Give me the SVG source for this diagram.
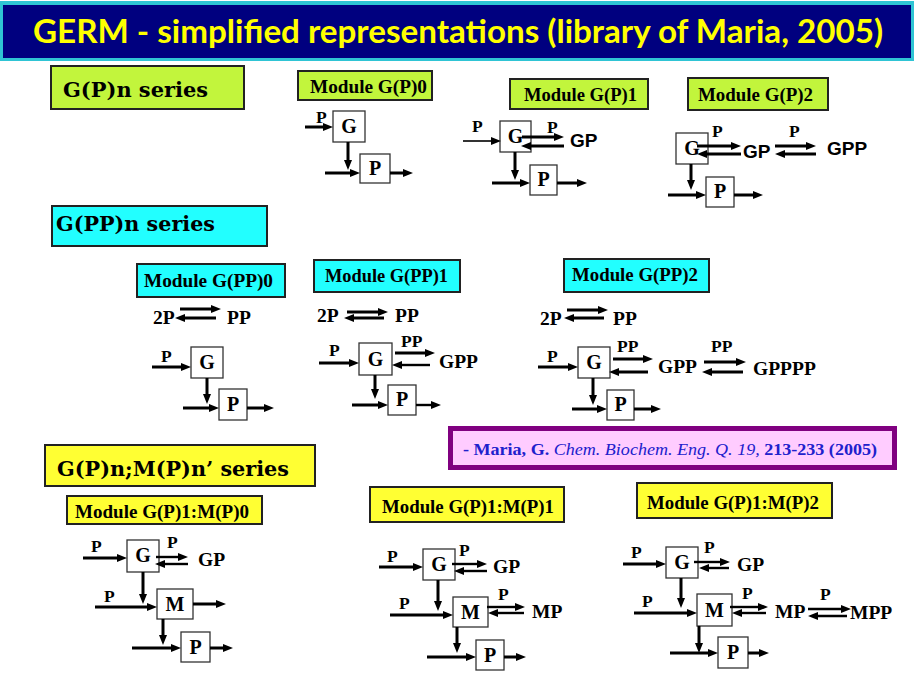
<svg xmlns="http://www.w3.org/2000/svg" width="914" height="676" viewBox="0 0 914 676">
<style>
.bg{fill:#fff}
.box{fill:#fff;stroke:#333;stroke-width:1.3}
.lim{fill:#C2F53C;stroke:#222;stroke-width:2}
.cya{fill:#22FFFF;stroke:#222;stroke-width:2}
.yel{fill:#FFFF33;stroke:#222;stroke-width:2}
.ar{stroke:#000;stroke-width:3;fill:none;marker-end:url(#ah)}
.th{stroke-width:1.6}
.md{stroke-width:2.4}
.t{font-family:"Liberation Serif","Times New Roman",serif;font-weight:bold;fill:#000}
.b{font-size:20px;text-anchor:middle}
.l{font-size:17.5px}
.p{font-size:19.5px}
.m{font-size:19px}
.s{font-family:"Liberation Sans",Arial,sans-serif;font-weight:bold;font-size:19px;fill:#000}
.h{font-family:"DejaVu Serif",serif;font-weight:bold;font-size:21px;fill:#000}
</style>
<defs>
<marker id="ah" markerUnits="userSpaceOnUse" markerWidth="10" markerHeight="8" viewBox="0 0 10 8" refX="4" refY="4" orient="auto">
<path d="M0,0 L10,4 L0,8 z" fill="#000"/>
</marker>
</defs>
<rect class="bg" x="0" y="0" width="914" height="676"/>

<g id="title">
<rect x="0" y="1" width="914" height="60" fill="#2FC4D4"/>
<rect x="3" y="5" width="908" height="53" fill="#00007F"/>
<text x="33" y="43" font-family="Lato,'Liberation Sans',sans-serif" font-weight="bold" font-size="33" fill="#FFFF00" textLength="850" lengthAdjust="spacingAndGlyphs">GERM - simplified representations (library of Maria, 2005)</text>
</g>

<g id="hdr-gpn"><rect class="lim" x="51" y="66" width="193" height="43"/><text class="h" x="63" y="97" textLength="145" lengthAdjust="spacingAndGlyphs">G(P)n series</text></g>
<g id="hdr-gppn"><rect class="cya" x="52" y="206" width="215" height="40"/><text class="h" x="56" y="231" textLength="159" lengthAdjust="spacingAndGlyphs">G(PP)n series</text></g>
<g id="hdr-gpnmpn"><rect class="yel" x="45" y="445" width="270" height="41"/><text class="h" x="57" y="476" textLength="232" lengthAdjust="spacingAndGlyphs">G(P)n;M(P)n’ series</text></g>

<g id="mod-gp0"><rect class="lim" x="298" y="71" width="134" height="29"/><text class="t m" x="310" y="93" textLength="117" lengthAdjust="spacingAndGlyphs">Module G(P)0</text></g>
<g id="mod-gp1"><rect class="lim" x="510" y="79" width="138" height="30"/><text class="t m" x="524" y="101" textLength="113" lengthAdjust="spacingAndGlyphs">Module G(P)1</text></g>
<g id="mod-gp2"><rect class="lim" x="688" y="78" width="140" height="32"/><text class="t m" x="698" y="101" textLength="115" lengthAdjust="spacingAndGlyphs">Module G(P)2</text></g>
<g id="mod-gpp0"><rect class="cya" x="137" y="264" width="148" height="33"/><text class="t m" x="144" y="287" textLength="129" lengthAdjust="spacingAndGlyphs">Module G(PP)0</text></g>
<g id="mod-gpp1"><rect class="cya" x="314" y="260" width="146" height="32"/><text class="t m" x="325" y="282" textLength="123" lengthAdjust="spacingAndGlyphs">Module G(PP)1</text></g>
<g id="mod-gpp2"><rect class="cya" x="564" y="259" width="145" height="33"/><text class="t m" x="572" y="281" textLength="126" lengthAdjust="spacingAndGlyphs">Module G(PP)2</text></g>
<g id="mod-gm0"><rect class="yel" x="67" y="496" width="195" height="28"/><text class="t" font-size="18" x="75" y="518" textLength="174" lengthAdjust="spacingAndGlyphs">Module G(P)1:M(P)0</text></g>
<g id="mod-gm1"><rect class="yel" x="370" y="487" width="194" height="35"/><text class="t" font-size="18" x="382" y="513" textLength="172" lengthAdjust="spacingAndGlyphs">Module G(P)1:M(P)1</text></g>
<g id="mod-gm2"><rect class="yel" x="637" y="483" width="195" height="35"/><text class="t" font-size="18" x="647" y="509" textLength="172" lengthAdjust="spacingAndGlyphs">Module G(P)1:M(P)2</text></g>

<g id="citation">
<rect x="450.5" y="428.5" width="444" height="39" fill="#FFCCFF" stroke="#800080" stroke-width="5"/>
<text x="463" y="455" font-family="'Liberation Serif','Times New Roman',serif" font-size="17.5" fill="#2020CC" textLength="414" lengthAdjust="spacingAndGlyphs"><tspan font-weight="bold">- Maria, G. </tspan><tspan font-style="italic">Chem. Biochem. Eng. Q. 19,</tspan><tspan font-weight="bold"> 213-233 (2005)</tspan></text>
</g>

<g id="gp0-G"><rect class="box" x="333" y="111" width="32" height="31"/><text class="t b" x="349" y="133">G</text></g>
<g id="gp0-P"><rect class="box" x="360" y="154" width="30" height="29"/><text class="t b" x="375" y="175">P</text></g>
<g id="gp1-G"><rect class="box" x="500" y="121" width="31" height="31"/><text class="t b" x="515.5" y="143">G</text></g>
<g id="gp1-P"><rect class="box" x="530" y="165" width="27" height="30"/><text class="t b" x="543.5" y="186">P</text></g>
<g id="gp1-GP"><text class="s" x="570" y="147">GP</text></g>
<g id="gp2-G"><rect class="box" x="676" y="133" width="32" height="31"/><text class="t b" x="692" y="155">G</text></g>
<g id="gp2-P"><rect class="box" x="706" y="177" width="28" height="30"/><text class="t b" x="720" y="198">P</text></g>
<g id="gp2-GP"><text class="s" x="743" y="158">GP</text></g>
<g id="gp2-GPP"><text class="s" x="827" y="155">GPP</text></g>
<g id="gpp0-2P"><text class="t p" x="153" y="324">2P</text></g>
<g id="gpp0-PP"><text class="t p" x="227" y="324">PP</text></g>
<g id="gpp0-G"><rect class="box" x="191" y="347" width="32" height="31"/><text class="t b" x="207" y="369">G</text></g>
<g id="gpp0-P"><rect class="box" x="219" y="389" width="28" height="31"/><text class="t b" x="233" y="411">P</text></g>
<g id="gpp1-2P"><text class="t p" x="317" y="322">2P</text></g>
<g id="gpp1-PP"><text class="t p" x="395" y="322">PP</text></g>
<g id="gpp1-G"><rect class="box" x="359" y="343" width="33" height="32"/><text class="t b" x="375.5" y="366">G</text></g>
<g id="gpp1-P"><rect class="box" x="388" y="385" width="28" height="30"/><text class="t b" x="402" y="406">P</text></g>
<g id="gpp1-GPP"><text class="t p" x="439" y="368">GPP</text></g>
<g id="gpp2-2P"><text class="t p" x="540" y="325">2P</text></g>
<g id="gpp2-PP"><text class="t p" x="613" y="325">PP</text></g>
<g id="gpp2-G"><rect class="box" x="578" y="347" width="32" height="31"/><text class="t b" x="594" y="369">G</text></g>
<g id="gpp2-P"><rect class="box" x="607" y="390" width="27" height="30"/><text class="t b" x="620.5" y="411">P</text></g>
<g id="gpp2-GPP"><text class="t p" x="658" y="373">GPP</text></g>
<g id="gpp2-GPPPP"><text class="t p" x="753" y="375">GPPPP</text></g>
<g id="gm0-G"><rect class="box" x="127" y="540" width="32" height="32"/><text class="t b" x="143" y="562">G</text></g>
<g id="gm0-GP"><text class="t p" x="198" y="566">GP</text></g>
<g id="gm0-M"><rect class="box" x="157" y="589" width="36" height="30"/><text class="t b" x="175" y="610.5">M</text></g>
<g id="gm0-P"><rect class="box" x="181" y="632" width="29" height="30"/><text class="t b" x="195.5" y="653.5">P</text></g>
<g id="gm1-G"><rect class="box" x="423" y="549" width="32" height="31"/><text class="t b" x="439" y="571">G</text></g>
<g id="gm1-GP"><text class="t p" x="493" y="573">GP</text></g>
<g id="gm1-M"><rect class="box" x="453" y="597" width="35" height="30"/><text class="t b" x="470.5" y="618.5">M</text></g>
<g id="gm1-MP"><text class="t p" x="532" y="618">MP</text></g>
<g id="gm1-P"><rect class="box" x="476" y="640" width="28" height="30"/><text class="t b" x="490" y="661.5">P</text></g>
<g id="gm2-G"><rect class="box" x="666" y="547" width="32" height="31"/><text class="t b" x="682" y="569">G</text></g>
<g id="gm2-GP"><text class="t p" x="737" y="571">GP</text></g>
<g id="gm2-M"><rect class="box" x="697" y="594" width="35" height="32"/><text class="t b" x="714.5" y="616.5">M</text></g>
<g id="gm2-MP"><text class="t p" x="775" y="618">MP</text></g>
<g id="gm2-MPP"><text class="t p" x="850" y="619">MPP</text></g>
<g id="gm2-P"><rect class="box" x="718" y="637" width="30" height="31"/><text class="t b" x="733" y="659">P</text></g>

<g id="connectors">
<path class="ar" d="M305,127 H327"/>
<path class="ar" d="M348,142 V164"/>
<path class="ar" d="M325,173 H354"/>
<path class="ar" d="M390,173 H407"/>
<path class="ar th" d="M463,141 H495"/>
<path class="ar" d="M522,137 H558"/>
<path class="ar" d="M564,146 H527"/>
<path class="ar" d="M515,152 V174"/>
<path class="ar" d="M492,183 H524"/>
<path class="ar" d="M557,183 H581"/>
<path class="ar" d="M697,146 H735"/>
<path class="ar" d="M741,154 H703"/>
<path class="ar" d="M775,146 H810"/>
<path class="ar" d="M816,154 H781"/>
<path class="ar" d="M691,164 V184"/>
<path class="ar" d="M668,195 H700"/>
<path class="ar" d="M734,195 H757"/>
<path class="ar" d="M180,309 H215"/>
<path class="ar" d="M216,318 H181"/>
<path class="ar" d="M152,367 H185"/>
<path class="ar" d="M207,378 V398"/>
<path class="ar" d="M183,408 H213"/>
<path class="ar" d="M247,408 H268"/>
<path class="ar" d="M347,312 H382"/>
<path class="ar" d="M384,318 H350"/>
<path class="ar" d="M319,363 H353"/>
<path class="ar" d="M395,353 H429"/>
<path class="ar md" d="M430,365 H398"/>
<path class="ar" d="M375,375 V393"/>
<path class="ar" d="M352,405 H382"/>
<path class="ar md" d="M416,405 H435"/>
<path class="ar" d="M567,310 H602"/>
<path class="ar" d="M604,318 H570"/>
<path class="ar" d="M538,367 H572"/>
<path class="ar" d="M613,359 H647"/>
<path class="ar" d="M648,372 H615"/>
<path class="ar" d="M704,362 H740"/>
<path class="ar" d="M743,372 H708"/>
<path class="ar" d="M593,378 V399"/>
<path class="ar" d="M572,409 H601"/>
<path class="ar" d="M634,409 H655"/>
<path class="ar" d="M83,558 H121"/>
<path class="ar md" d="M156,557 H182"/>
<path class="ar md" d="M188,564 H161"/>
<path class="ar" d="M143,572 V598"/>
<path class="ar" d="M95,607 H151"/>
<path class="ar" d="M193,604 H220"/>
<path class="ar" d="M163,619 V639"/>
<path class="ar" d="M132,648 H175"/>
<path class="ar" d="M210,648 H227"/>
<path class="ar" d="M379,567 H417"/>
<path class="ar md" d="M452,564 H481"/>
<path class="ar md" d="M487,571 H460"/>
<path class="ar" d="M438,580 V605"/>
<path class="ar" d="M390,615 H447"/>
<path class="ar md" d="M487,607 H519"/>
<path class="ar md" d="M524,613 H494"/>
<path class="ar" d="M457,627 V647"/>
<path class="ar" d="M427,657 H470"/>
<path class="ar" d="M504,657 H520"/>
<path class="ar" d="M623,564 H660"/>
<path class="ar md" d="M694,562 H724"/>
<path class="ar md" d="M729,568 H705"/>
<path class="ar" d="M681,578 V602"/>
<path class="ar" d="M634,613 H691"/>
<path class="ar md" d="M730,607 H762"/>
<path class="ar md" d="M766,613 H738"/>
<path class="ar md" d="M808,609 H845"/>
<path class="ar md" d="M847,616 H814"/>
<path class="ar" d="M699,626 V647"/>
<path class="ar" d="M670,653 H712"/>
<path class="ar" d="M748,653 H763"/>
</g>

<g id="labels">
<text class="t l" x="316" y="123">P</text>
<text class="t l" x="472" y="132">P</text>
<text class="t l" x="547" y="133">P</text>
<text class="t l" x="712" y="137">P</text>
<text class="t l" x="789" y="137">P</text>
<text class="t l" x="161" y="362">P</text>
<text class="t l" x="329" y="356">P</text>
<text class="t l" x="401" y="347">PP</text>
<text class="t l" x="547" y="362">P</text>
<text class="t l" x="617" y="352">PP</text>
<text class="t l" x="711" y="352">PP</text>
<text class="t l" x="91" y="552">P</text>
<text class="t l" x="167" y="548">P</text>
<text class="t l" x="104" y="602">P</text>
<text class="t l" x="387" y="562">P</text>
<text class="t l" x="459" y="556">P</text>
<text class="t l" x="399" y="609">P</text>
<text class="t l" x="498" y="600">P</text>
<text class="t l" x="631" y="558">P</text>
<text class="t l" x="704" y="553">P</text>
<text class="t l" x="642" y="607">P</text>
<text class="t l" x="742" y="599">P</text>
<text class="t l" x="820" y="600">P</text>
</g>
</svg>
